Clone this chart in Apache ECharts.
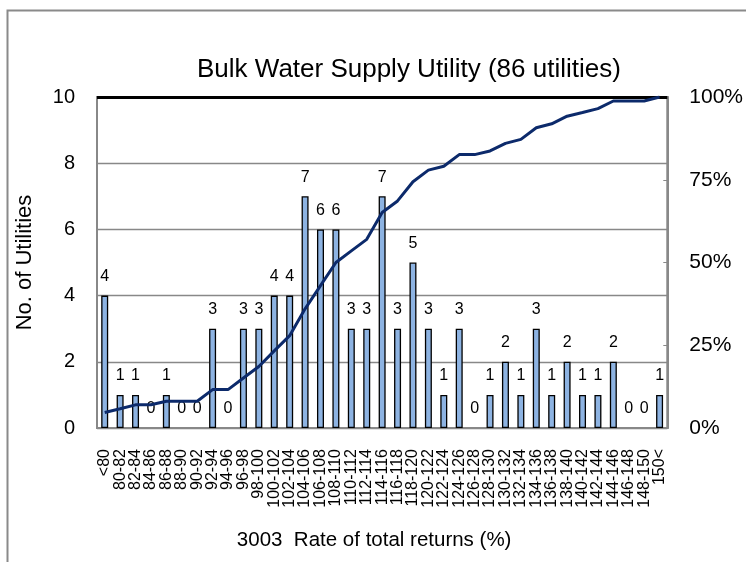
<!DOCTYPE html>
<html>
<head>
<meta charset="utf-8">
<title>Bulk Water Supply Utility</title>
<script src="https://cdn.jsdelivr.net/npm/echarts@6/dist/echarts.min.js"></script>
<style>
	html, body { margin: 0; padding: 0; background: #fff; }
	#main { width: 746px; height: 562px; }
</style>
</head>
<body>
<div id="main"></div>
<script>
	// categories (rate of total returns, %)
	var categories = ['<80', '80-82', '82-84', '84-86', '86-88', '88-90', '90-92', '92-94', '94-96', '96-98',
		'98-100', '100-102', '102-104', '104-106', '106-108', '108-110', '110-112', '112-114', '114-116', '116-118',
		'118-120', '120-122', '122-124', '124-126', '126-128', '128-130', '130-132', '132-134', '134-136', '136-138',
		'138-140', '140-142', '142-144', '144-146', '146-148', '148-150', '150<'];

	// number of utilities in each band
	var counts = [4, 1, 1, 0, 1, 0, 0, 3, 0, 3,
		3, 4, 4, 7, 6, 6, 3, 3, 7, 3,
		5, 3, 1, 3, 0, 1, 2, 1, 3, 1,
		2, 1, 1, 2, 0, 0, 1];

	// cumulative share (%)
	var cumulative = [4.7, 5.8, 7.0, 7.0, 8.1, 8.1, 8.1, 11.6, 11.6, 15.1,
		18.6, 23.3, 27.9, 36.0, 43.0, 50.0, 53.5, 57.0, 65.1, 68.6,
		74.4, 77.9, 79.1, 82.6, 82.6, 83.7, 86.0, 87.2, 90.7, 91.9,
		94.2, 95.3, 96.5, 98.8, 98.8, 98.8, 100];

	var leftTicks = [0, 2, 4, 6, 8, 10];
	var rightTicks = [0, 25, 50, 75, 100];

	var font = '"Liberation Sans", Arial, sans-serif';

	// empty bands get no outline
	var barData = counts.map(function (v) {
		return v === 0 ? { value: v, itemStyle: { borderWidth: 0 } } : v;
	});

	var myChart = echarts.init(document.getElementById('main'));

	var option = {
		animation: false,
		textStyle: { fontFamily: font },
		title: {
			text: 'Bulk Water Supply Utility (86 utilities)',
			left: 192,
			top: 52,
			textStyle: { fontFamily: font, fontSize: 26, fontWeight: 'normal', color: '#000' }
		},
		graphic: [
			{
				type: 'rect',
				left: 5, top: 8,
				shape: { width: 800, height: 600 },
				style: { fill: 'none', stroke: '#8a8a8a', lineWidth: 2 },
				silent: true
			}
		],
		grid: {
			left: 97,
			right: 75,
			top: 97,
			bottom: 134,
			show: true,
			borderColor: '#888',
			borderWidth: 2
		},
		xAxis: {
			type: 'category',
			data: categories,
			name: '3003  Rate of total returns (%)',
			nameLocation: 'middle',
			nameGap: 102,
			nameTextStyle: { fontFamily: font, fontSize: 20.5, color: '#000', padding: [0, 16, 0, 0] },
			axisLine: { lineStyle: { color: '#888', width: 2 } },
			axisTick: { show: false },
			axisLabel: {
				interval: 0,
				rotate: 90,
				margin: 21,
				fontSize: 16,
				color: '#000',
				fontFamily: font
			}
		},
		yAxis: [
			{
				type: 'value',
				min: leftTicks[0],
				max: leftTicks[leftTicks.length - 1],
				interval: leftTicks[1] - leftTicks[0],
				name: 'No. of Utilities',
				nameLocation: 'middle',
				nameGap: 61,
				nameTextStyle: { fontFamily: font, fontSize: 22, color: '#000' },
				axisLine: { show: true, lineStyle: { color: '#888', width: 2 } },
				axisTick: { show: false },
				axisLabel: { fontSize: 20, color: '#000', margin: 22, fontFamily: font },
				splitLine: { lineStyle: { color: '#888', width: 1.3 } }
			},
			{
				type: 'value',
				min: rightTicks[0],
				max: rightTicks[rightTicks.length - 1],
				interval: rightTicks[1] - rightTicks[0],
				position: 'right',
				axisLine: { show: true, lineStyle: { color: '#888', width: 2 } },
				axisTick: { show: true, inside: true, length: 4, lineStyle: { color: '#888' } },
				axisLabel: { formatter: '{value}%', fontSize: 21, color: '#000', margin: 22, fontFamily: font },
				splitLine: { show: false }
			}
		],
		series: [
			{
				name: 'No. of Utilities',
				type: 'bar',
				data: barData,
				barWidth: 7,
				itemStyle: { color: '#8db3e2', borderColor: '#000', borderWidth: 1.3 },
				label: {
					show: true,
					position: 'top',
					distance: 11,
					fontSize: 16,
					color: '#000',
					fontFamily: font
				},
				markLine: {
					silent: true,
					symbol: 'none',
					label: { show: false },
					lineStyle: { color: '#000', width: 3, type: 'solid' },
					data: [{ yAxis: 10 }]
				}
			},
			{
				name: 'Cumulative',
				type: 'line',
				yAxisIndex: 1,
				data: cumulative,
				showSymbol: false,
				lineStyle: { color: '#0c2a6b', width: 3 },
				z: 5
			}
		]
	};

	myChart.setOption(option);
</script>
</body>
</html>
